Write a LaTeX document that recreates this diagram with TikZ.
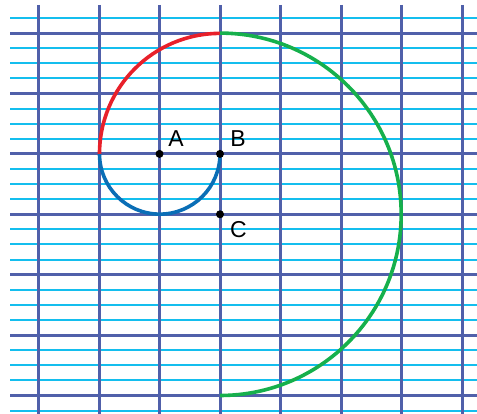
\documentclass[tikz,border=0pt]{standalone}
\usepackage{fontspec}
\setmainfont{Liberation Sans}
\definecolor{gridDark}{RGB}{80,96,170}
\definecolor{gridLight}{RGB}{20,190,238}
\definecolor{arcRed}{RGB}{232,32,42}
\definecolor{arcGreen}{RGB}{22,176,76}
\definecolor{arcBlue}{RGB}{10,110,182}
\begin{document}
\begin{tikzpicture}[x=1pt,y=1pt,
  darkline/.style={draw=gridDark,line width=3pt},
  lightline/.style={draw=gridLight,line width=2pt},
  arcline/.style={line width=3.6pt},
  pt/.style={circle,fill=black,inner sep=0pt,minimum size=8pt},
  lbl/.style={font=\fontsize{23}{26}\selectfont,text=black,inner sep=0pt}]
\useasboundingbox (0,0) rectangle (477,414);
\fill[white] (0,0) rectangle (477,414);
% light horizontal lines
\foreach \k in {-1,...,25}
  \draw[lightline] (10,{18.5+15.1*\k}) -- (477,{18.5+15.1*\k});
% dark horizontal lines
\foreach \k in {0,...,6}
  \draw[darkline] (10,{18.5+60.4*\k}) -- (477,{18.5+60.4*\k});
% vertical lines
\foreach \k in {0,...,7}
  \draw[darkline] ({38.5+60.5*\k},409) -- ({38.5+60.5*\k},0);
% points
\coordinate (A) at (159.5,260.1);
\coordinate (B) at (220,260.1);
\coordinate (C) at (220,199.7);
\coordinate (redStart) at (99.5,260.1);
\coordinate (top) at (220,380.9);
% arcs
\draw[arcline,arcBlue] (B) arc[start angle=0,end angle=-180,radius=60.25];
\draw[arcline,arcRed] (redStart) arc[start angle=180,end angle=90,radius=120.5];
\draw[arcline,arcGreen] (top) arc[start angle=90,end angle=-90,radius=181.2];
\node[pt] (pA) at (A) {};
\node[pt] (pB) at (B) {};
\node[pt] (pC) at (C) {};
\node[lbl] (lA) at ([xshift=16.5pt,yshift=15pt]A) {A};
\node[lbl] (lB) at ([xshift=18pt,yshift=15pt]B) {B};
\node[lbl] (lC) at ([xshift=18.5pt,yshift=-15pt]C) {C};
\end{tikzpicture}
\end{document}
